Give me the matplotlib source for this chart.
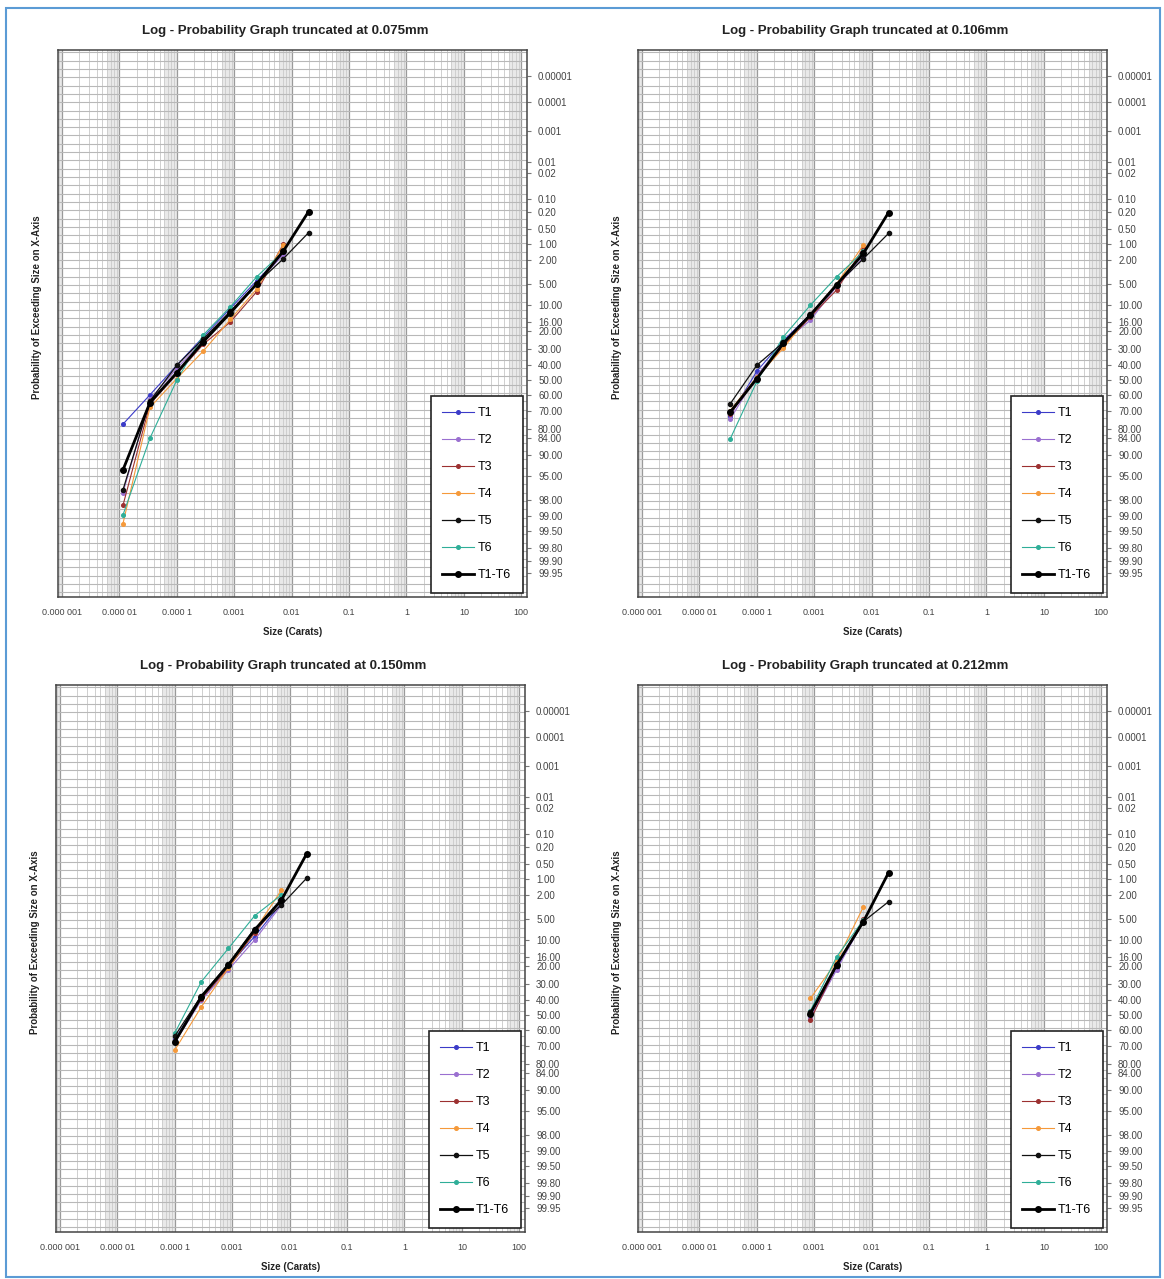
import numpy as np
import matplotlib; matplotlib.use("Agg")
import matplotlib.pyplot as plt
from matplotlib.ticker import FixedLocator, FixedFormatter, NullFormatter
from matplotlib.patches import Rectangle
from statistics import NormalDist

ND = NormalDist()

# sieve class sizes (carats), shared by all four panels
SIZES = [1.15e-5, 3.4e-5, 1.0e-4, 2.9e-4, 8.6e-4, 2.45e-3, 7.2e-3, 1.97e-2]
SERIES = ["T1", "T2", "T3", "T4", "T5", "T6", "T1-T6"]
COLORS = ["#3b3bc8", "#9a6fd0", "#9c3030", "#f5993a", "#111111", "#2fae98", "#000000"]

# probability of exceeding size (%) -- each panel starts at a given size index
START_075 = 0
P_075 = {"T1": [77.5, 60, 40, 23, 11, 4.5, 1.5],
         "T2": [97.3, 63, 42, 25, 12, 5.0, 1.6],
         "T3": [98.4, 66, 46, 27, 16, 6.6, 1.0],
         "T4": [99.3, 68, 49, 31, 15, 6.0, 1.05],
         "T5": [97.0, 64, 40, 24, 12, 5.0, 1.9, 0.59],
         "T6": [98.95, 84, 50, 22, 10.5, 3.9, 1.4],
         "T1-T6": [93.8, 65, 45, 25.6, 12.5, 5.05, 1.37, 0.2]}

START_106 = 1
P_106 = {"T1": [73, 44, 25, 13, 5.0, 1.6],
         "T2": [75, 47, 26, 15.3, 5.5, 1.8],
         "T3": [72, 49, 28, 14, 6.2, 1.2],
         "T4": [70, 48, 29.3, 13, 5.0, 1.05],
         "T5": [66, 40, 26, 13, 5.2, 1.9, 0.61],
         "T6": [84.5, 51, 23, 10, 3.9, 1.4],
         "T1-T6": [71, 49, 26.5, 13.3, 5.2, 1.52, 0.21]}

START_150 = 2
P_150 = {"T1": [66, 38, 20, 9, 2.8],
         "T2": [68, 40, 22, 10, 3.0],
         "T3": [67, 39, 21, 8, 2.5],
         "T4": [72.5, 44.4, 21, 7.5, 1.63],
         "T5": [64, 37, 19, 7, 3.0, 0.97],
         "T6": [62, 28.4, 12.7, 4.5, 2.0],
         "T1-T6": [67.6, 37.7, 19.6, 7.3, 2.47, 0.296]}

START_212 = 4
P_212 = {"T1": [50, 21, 5.5],
         "T2": [52, 22, 5.5],
         "T3": [53.4, 20, 5.0],
         "T4": [38.8, 18, 3.2],
         "T5": [48, 20, 5.5, 2.64],
         "T6": [47, 16, 5.2],
         "T1-T6": [49, 19.6, 5.5, 0.75]}

TITLES = ["Log - Probability Graph truncated at 0.075mm",
          "Log - Probability Graph truncated at 0.106mm",
          "Log - Probability Graph truncated at 0.150mm",
          "Log - Probability Graph truncated at 0.212mm"]

YTICKS = [0.00001, 0.0001, 0.001, 0.01, 0.02, 0.10, 0.20, 0.50, 1.00, 2.00, 5.00,
          10.00, 16.00, 20.00, 30.00, 40.00, 50.00, 60.00, 70.00, 80.00, 84.00,
          90.00, 95.00, 98.00, 99.00, 99.50, 99.80, 99.90, 99.95]
YLABELS = ["0.00001", "0.0001", "0.001", "0.01", "0.02"] + [f"{v:.2f}" for v in YTICKS[5:]]
XTICKS = [1e-6, 1e-5, 1e-4, 1e-3, 1e-2, 1e-1, 1, 10, 100]
XLABELS = ["0.000 001", "0.000 01", "0.000 1", "0.001", "0.01", "0.1", "1", "10", "100"]


def _fwd(p):
    p = np.asarray(p, dtype=float)
    f = np.vectorize(lambda v: ND.inv_cdf(min(max(v, 1e-10), 100 - 1e-10) / 100.0)
                     if np.isfinite(v) else np.nan, otypes=[float])
    return f(p)


def _inv(z):
    z = np.asarray(z, dtype=float)
    f = np.vectorize(lambda v: 100.0 * ND.cdf(v) if np.isfinite(v) else np.nan, otypes=[float])
    return f(z)


plt.rcParams["font.family"] = ["Liberation Sans", "DejaVu Sans"]
W, H = 1164, 1279
fig = plt.figure(figsize=(W / 100, H / 100), dpi=100)
fig.patch.set_facecolor("white")

# axes boxes in pixels: left, top, right, bottom
BOXES = [(58, 50, 527, 597), (638, 50, 1107, 597),
         (56, 685, 525, 1232), (638, 685, 1107, 1232)]
PANELS = [(START_075, P_075), (START_106, P_106), (START_150, P_150), (START_212, P_212)]

hgrid = _inv(np.arange(-5.6, 3.72, 0.142))
vminor = [k * 10.0 ** e for e in range(-7, 3) for k in range(2, 10)]

for (l, t, r, b), (start, data), title in zip(BOXES, PANELS, TITLES):
    ax = fig.add_axes([l / W, 1 - b / H, (r - l) / W, (b - t) / H])
    ax.set_xscale("log")
    ax.set_yscale("function", functions=(_fwd, _inv))
    ax.set_xlim(8.5e-7, 126)
    ax.set_ylim(_inv(3.709), _inv(-5.641))
    for e in range(-7, 3):
        ax.axvspan(6 * 10.0 ** e, 10 * 10.0 ** e, color="#e9e9e9", lw=0, zorder=0)

    ax.xaxis.set_major_locator(FixedLocator(XTICKS))
    ax.xaxis.set_major_formatter(FixedFormatter(XLABELS))
    ax.xaxis.set_minor_locator(FixedLocator(vminor))
    ax.xaxis.set_minor_formatter(NullFormatter())
    ax.yaxis.set_major_locator(FixedLocator(YTICKS))
    ax.yaxis.set_major_formatter(FixedFormatter(YLABELS))
    ax.yaxis.set_minor_locator(FixedLocator(hgrid))
    ax.yaxis.set_minor_formatter(NullFormatter())
    ax.yaxis.tick_right()
    ax.yaxis.set_label_position("left")
    ax.set_axisbelow(True)

    ax.grid(which="minor", axis="x", color="#cfcfcf", lw=0.7)
    ax.grid(which="major", axis="x", color="#9a9a9a", lw=0.9)
    ax.grid(which="minor", axis="y", color="#b8b8b8", lw=0.8)
    ax.tick_params(axis="x", which="both", length=0, labelsize=6.5, colors="#444444", pad=8)
    ax.tick_params(axis="y", which="major", length=3, labelsize=7, colors="#777777",
                   labelcolor="#444444", pad=5, right=True, left=False)
    ax.tick_params(axis="y", which="minor", length=0)
    for s in ax.spines.values():
        s.set_color("#444444"); s.set_linewidth(1.1)

    for name, col in zip(SERIES, COLORS):
        vals = data[name]
        xs = SIZES[start:start + len(vals)]
        if name == "T1-T6":
            ax.plot(xs, vals, "-o", color=col, lw=2.0, ms=4, label=name, zorder=5)
        elif name == "T5":
            ax.plot(xs, vals, "-o", color=col, lw=0.9, ms=3, label=name, zorder=4)
        else:
            ax.plot(xs, vals, "-o", color=col, lw=0.8, ms=2.6, label=name, zorder=3)

    leg = ax.legend(loc="lower right", borderpad=0.9, labelspacing=1.2,
                    handlelength=2.6, handletextpad=0.3, borderaxespad=0.35,
                    fancybox=False, framealpha=1,
                    prop={"family": ["Liberation Sans Narrow", "Liberation Sans"], "size": 9})
    leg.get_frame().set_edgecolor("#222222"); leg.get_frame().set_linewidth(1.2)

    ax.text(0.485, 1.035, title, transform=ax.transAxes, ha="center", va="center",
            fontsize=9.5, fontweight="bold", color="#222222")
    ax.set_ylabel("Probability of Exceeding Size on X-Axis", fontsize=7, fontweight="bold",
                  color="#222222")
    ax.yaxis.set_label_coords(-0.034, 0.53)
    ax.set_xlabel("Size (Carats)", fontsize=7, fontweight="bold", color="#222222", labelpad=7)

fig.add_artist(Rectangle((6 / W, 2 / H), (1160 - 6) / W, (1271 - 2) / H, transform=fig.transFigure,
                         fill=False, ec="#5b9bd5", lw=1.5))
fig.savefig("out.png", dpi=100)
